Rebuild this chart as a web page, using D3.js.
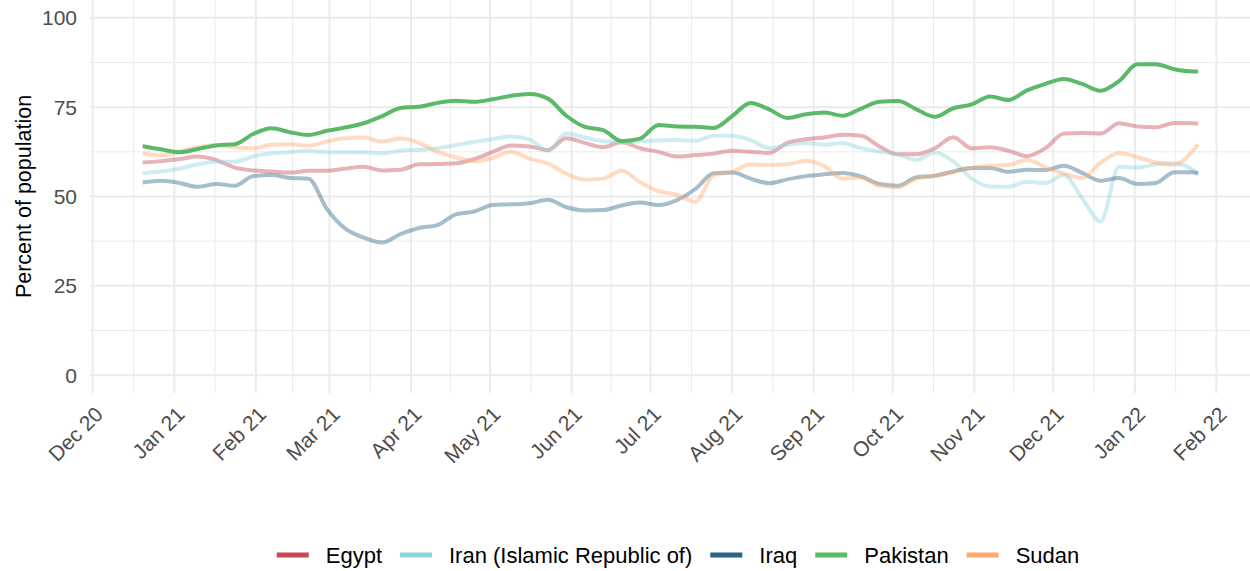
<!DOCTYPE html>
<html>
<head>
<meta charset="utf-8">
<script src="https://cdn.jsdelivr.net/npm/d3@7"></script>
<style>
  html, body { margin: 0; padding: 0; background: #fff; }
  svg { display: block; font-family: "Liberation Sans", Arial, Helvetica, sans-serif; }
</style>
</head>
<body>
<svg id="chart" width="1250" height="571"></svg>
<script>
// ---------------- DATA ----------------
const dates = [
  "2020-12-20","2020-12-27","2021-01-03","2021-01-10","2021-01-17","2021-01-24","2021-01-31",
  "2021-02-07","2021-02-14","2021-02-21","2021-02-28","2021-03-07","2021-03-14","2021-03-21",
  "2021-03-28","2021-04-04","2021-04-11","2021-04-18","2021-04-25","2021-05-02","2021-05-09",
  "2021-05-16","2021-05-23","2021-05-30","2021-06-06","2021-06-13","2021-06-20","2021-06-27",
  "2021-07-04","2021-07-11","2021-07-18","2021-07-25","2021-08-01","2021-08-08","2021-08-15",
  "2021-08-22","2021-08-29","2021-09-05","2021-09-12","2021-09-19","2021-09-26","2021-10-03",
  "2021-10-10","2021-10-17","2021-10-24","2021-10-31","2021-11-07","2021-11-14","2021-11-21",
  "2021-11-28","2021-12-05","2021-12-12","2021-12-19","2021-12-26","2022-01-02","2022-01-09",
  "2022-01-16","2022-01-23","2022-01-25"
];

const egypt = [
  59.5,59.9,60.5,61.2,60.2,58.1,57.3,57.0,56.7,57.2,57.2,57.8,58.3,57.3,
  57.5,59.0,59.1,59.3,60.5,62.5,64.3,64.0,63.0,66.3,65.0,63.8,65.2,63.5,
  62.5,61.2,61.6,62.0,62.8,62.5,62.2,65.0,66.0,66.5,67.3,67.0,64.0,61.8,
  61.8,63.5,66.6,63.5,63.8,62.8,61.3,63.5,67.6,67.8,67.6,70.5,69.6,69.4,
  70.6,70.5,70.4
];

const iran = [
  56.5,57.0,57.8,59.0,59.7,59.7,61.2,62.1,62.4,62.8,62.4,62.4,62.4,62.1,
  62.8,63.1,63.5,64.4,65.3,66.1,66.8,66.0,62.8,67.6,66.5,65.5,65.3,65.5,
  65.7,65.8,65.6,67.0,67.0,65.8,63.5,64.5,65.0,64.5,65.0,63.5,62.6,61.8,
  60.2,62.3,59.8,55.0,52.8,52.7,54.1,53.7,56.0,49.5,43.0,58.3,58.1,59.0,
  59.3,57.5,56.4
];

const iraq = [
  53.9,54.4,53.8,52.7,53.5,53.0,55.7,56.0,55.2,55.0,46.5,41.0,38.5,37.1,
  39.5,41.2,42.0,45.0,45.8,47.6,47.8,48.1,49.1,47.0,46.1,46.2,47.5,48.3,
  47.6,49.0,52.1,56.5,56.7,55.0,53.7,54.8,55.7,56.2,56.6,55.6,53.5,53.0,
  55.4,55.8,57.0,58.0,58.0,56.9,57.5,57.4,58.6,56.6,54.4,55.2,53.5,53.8,
  56.8,56.8,56.4
];

const pakistan = [
  64.1,63.2,62.4,63.3,64.3,64.6,67.5,69.1,68.0,67.2,68.4,69.3,70.5,72.5,
  74.8,75.1,76.2,76.8,76.5,77.2,78.2,78.7,77.4,72.6,69.5,68.6,65.5,66.2,
  70.0,69.6,69.5,69.2,72.5,76.2,74.4,72.0,73.0,73.5,72.6,74.6,76.5,76.7,
  74.4,72.3,74.7,75.8,78.0,77.0,79.7,81.5,82.9,81.5,79.6,82.3,87.0,87.0,
  85.6,85.0,85.0
];

const sudan = [
  62.1,61.5,62.6,63.8,64.4,63.8,63.5,64.5,64.6,64.2,65.4,66.3,66.5,65.4,
  66.2,65.0,62.5,61.0,59.9,60.8,62.5,60.6,59.2,56.4,54.7,55.0,57.3,54.0,
  51.5,50.5,48.5,56.0,56.9,59.0,58.8,59.0,60.0,58.5,55.0,55.3,53.0,52.6,
  55.0,55.8,56.8,58.0,58.6,58.8,60.3,58.2,56.4,55.2,59.5,62.2,61.0,59.5,
  58.9,62.8,64.6
];

const countries = ["Egypt","Iran (Islamic Republic of)","Iraq","Pakistan","Sudan"];
const colors = ["#c64b55","#8dd3de","#2a6584","#5cb96a","#ffa96e"];
const seriesValues = [egypt, iran, iraq, pakistan, sudan];

const xTickDates = [
  "2020-12-01","2021-01-01","2021-02-01","2021-03-01","2021-04-01","2021-05-01","2021-06-01",
  "2021-07-01","2021-08-01","2021-09-01","2021-10-01","2021-11-01","2021-12-01","2022-01-01","2022-02-01"
];
const xTickLabels = ["Dec 20","Jan 21","Feb 21","Mar 21","Apr 21","May 21","Jun 21","Jul 21",
  "Aug 21","Sep 21","Oct 21","Nov 21","Dec 21","Jan 22","Feb 22"];
const yTicks = [0, 25, 50, 75, 100];
const yMinorTicks = [12.5, 37.5, 62.5, 87.5];
const yTitle = "Percent of population";

// ---------------- DRAW ----------------
const parse = d3.utcParse("%Y-%m-%d");
const svg = d3.select("#chart");

const panel = { left: 90, right: 1248, top: 0, bottom: 393 };

const x = d3.scaleUtc()
  .domain([parse("2020-11-30"), parse("2022-02-13")])
  .range([panel.left, panel.right]);
const y = d3.scaleLinear().domain([-5, 105]).range([panel.bottom, panel.top]);

const majorDates = xTickDates.map(parse);
const minorDates = [];
for (let i = 0; i < majorDates.length - 1; i++) {
  minorDates.push(new Date((majorDates[i].getTime() + majorDates[i + 1].getTime()) / 2));
}

const grid = svg.append("g");
// minor grid
grid.selectAll(".ymin").data(yMinorTicks).join("line")
  .attr("x1", panel.left).attr("x2", 1250)
  .attr("y1", d => y(d)).attr("y2", d => y(d))
  .attr("stroke", "#ebebeb").attr("stroke-width", 1);
grid.selectAll(".xmin").data(minorDates).join("line")
  .attr("x1", d => x(d)).attr("x2", d => x(d))
  .attr("y1", panel.top).attr("y2", panel.bottom)
  .attr("stroke", "#ebebeb").attr("stroke-width", 1);
// major grid
grid.selectAll(".ymaj").data(yTicks).join("line")
  .attr("x1", panel.left).attr("x2", 1250)
  .attr("y1", d => y(d)).attr("y2", d => y(d))
  .attr("stroke", "#ebebeb").attr("stroke-width", 2);
grid.selectAll(".xmaj").data(majorDates).join("line")
  .attr("x1", d => x(d)).attr("x2", d => x(d))
  .attr("y1", panel.top).attr("y2", panel.bottom)
  .attr("stroke", "#ebebeb").attr("stroke-width", 2);

// y tick labels
svg.append("g").selectAll("text").data(yTicks).join("text")
  .attr("x", 77).attr("y", d => y(d))
  .attr("dy", "0.36em")
  .attr("text-anchor", "end")
  .attr("fill", "#4d4d4d")
  .attr("font-size", 21)
  .text(d => d);

// x tick labels
svg.append("g").selectAll("text").data(majorDates).join("text")
  .attr("transform", d => `translate(${x(d) + 1},${405}) rotate(-45)`)
  .attr("text-anchor", "end")
  .attr("dy", "0.72em")
  .attr("fill", "#4d4d4d")
  .attr("font-size", 21)
  .text((d, i) => xTickLabels[i]);

// y title
svg.append("text")
  .attr("transform", `translate(31,${(y(0) + y(100)) / 2}) rotate(-90)`)
  .attr("text-anchor", "middle")
  .attr("fill", "#000")
  .attr("font-size", 21.5)
  .text(yTitle);

// lines
const dateObjs = dates.map(parse);
const line = d3.line()
  .x(d => x(d[0]))
  .y(d => y(d[1]))
  .curve(d3.curveMonotoneX);

const order = [0, 1, 2, 4, 3];
const lines = svg.append("g");
order.forEach(i => {
  const pts = dateObjs.map((dt, j) => [dt, seriesValues[i][j]]);
  lines.append("path")
    .attr("d", line(pts))
    .attr("fill", "none")
    .attr("stroke", colors[i])
    .attr("stroke-width", 4)
    .attr("stroke-linejoin", "round")
    .attr("stroke-linecap", "butt")
    .attr("stroke-opacity", countries[i] === "Pakistan" ? 1 : 0.42);
});

// legend
const legend = svg.append("g");
const keyW = 32, keyGap = 17, itemGap = 18, legY = 555, legCenter = 678;
const items = countries.map((c, i) => {
  const g = legend.append("g");
  g.append("line").attr("x1", 0).attr("x2", keyW).attr("y1", 0).attr("y2", 0)
    .attr("stroke", colors[i]).attr("stroke-width", 5);
  const t = g.append("text").attr("x", keyW + keyGap).attr("y", 0).attr("dy", "0.35em")
    .attr("font-size", 22).attr("fill", "#000").text(c);
  return { g, w: keyW + keyGap + t.node().getComputedTextLength() };
});
const total = d3.sum(items, d => d.w) + itemGap * (items.length - 1);
let cx = legCenter - total / 2;
items.forEach(it => {
  it.g.attr("transform", `translate(${cx},${legY})`);
  cx += it.w + itemGap;
});
</script>
</body>
</html>
